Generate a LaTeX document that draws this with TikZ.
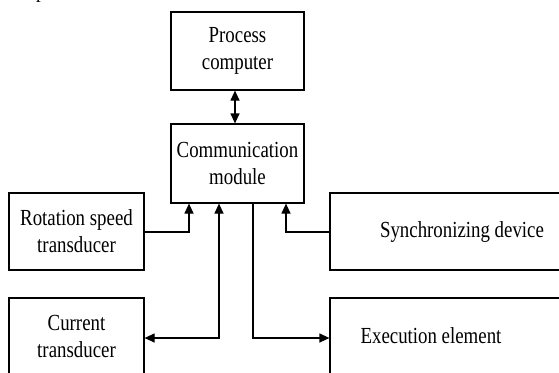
\documentclass[tikz,border=0pt]{standalone}
\usepackage{fontspec}
\setmainfont[FakeStretch=0.82]{Liberation Serif}
\usetikzlibrary{arrows.meta}
\begin{document}
\begin{tikzpicture}[x=1pt,y=-1pt,
  box/.style={draw=black,line width=1.2pt,rectangle,inner sep=0pt,align=center,
    font=\fontsize{23}{27}\selectfont},
  txt/.style={inner sep=0pt,font=\fontsize{23}{27}\selectfont},
  conn/.style={draw=black,line width=1.2pt},
  tip/.style={-{Triangle[length=10pt,width=9pt]}}]
\useasboundingbox (0,0) rectangle (559,372);
\clip (0,0) rectangle (559,372);
\node[txt,anchor=base west] (frag) at (36,-2) {p};
\node[box,minimum width=133,minimum height=78] (pc) at (237.5,51) {Process\\computer};
\node[box,minimum width=133,minimum height=79] (cm) at (237.5,163.5) {Communication\\module};
\node[box,minimum width=135,minimum height=77] (rst) at (76.5,231.5) {Rotation speed\\transducer};
\node[box,minimum width=264,minimum height=77] (sd) at (462,231.5) {Synchronizing device};
\node[box,minimum width=135,minimum height=77] (ct) at (76.5,336.5) {Current\\transducer};
\node[box,minimum width=264,minimum height=77] (ee) at (462,336.5) {};
\node[txt] (eet) at (431,335.5) {Execution element};
% connectors
\draw[conn,{Triangle[length=10pt,width=9pt]}-{Triangle[length=10pt,width=9pt]}] (pc.south -| 235,0) -- (cm.north -| 235,0);
\draw[conn,tip] (rst.east |- 0,232) -| (cm.south -| 189,0);
\draw[conn,tip] (sd.west |- 0,232) -| (cm.south -| 286,0);
\draw[conn,{Triangle[length=10pt,width=9pt]}-{Triangle[length=10pt,width=9pt]}] (ct.east |- 0,338) -| (cm.south -| 219,0);
\draw[conn,tip] (cm.south -| 253,0) |- (ee.west |- 0,338);
\end{tikzpicture}
\end{document}
